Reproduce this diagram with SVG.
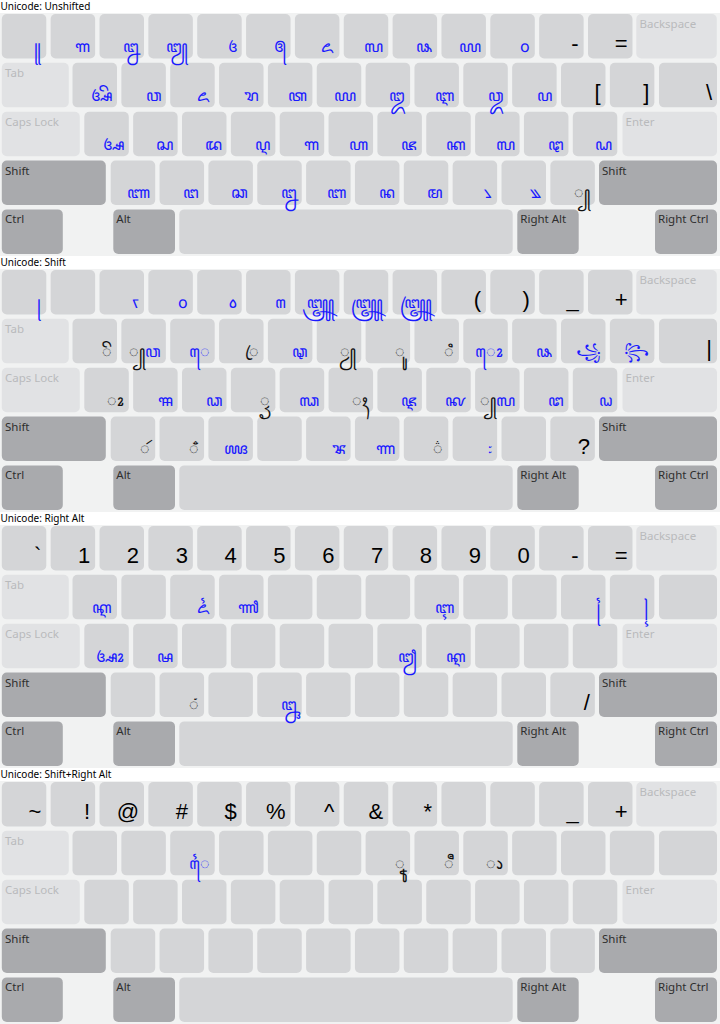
<svg xmlns="http://www.w3.org/2000/svg" xmlns:xlink="http://www.w3.org/1999/xlink" width="720" height="1024" viewBox="0 0 720 1024">
<style>
.bg{fill:#f1f2f2}
.k{fill:#d4d5d7}
.s{fill:#e1e2e4}
.m{fill:#a9aaad}
.lab{font-family:"Noto Sans","DejaVu Sans",sans-serif;font-size:11.5px}
.ll{fill:#b9babc}
.dl{fill:#2e2e2e}
.ttl{font-family:"Noto Sans","DejaVu Sans",sans-serif;font-size:10px;fill:#000}
.a{font-family:"Liberation Sans",Arial,sans-serif;font-size:22px;fill:#000;text-anchor:end}
.j{font-family:"Noto Sans","DejaVu Sans",sans-serif;font-size:16px;fill:#1a1aff;text-anchor:end}
.jb{font-family:"Noto Sans","DejaVu Sans",sans-serif;font-size:16px;fill:#111;text-anchor:end}
.sp{font-size:16.05px;fill:#1a1aff}
</style>
<rect width="720" height="1024" fill="#fff"/>
<defs>
<g id="base">
<rect class="bg" x="0" y="13" width="720" height="243"/>
<rect class="k" x="1.8" y="14" width="44.5" height="44.5" rx="5"/>
<rect class="k" x="50.65" y="14" width="44.5" height="44.5" rx="5"/>
<rect class="k" x="99.5" y="14" width="44.5" height="44.5" rx="5"/>
<rect class="k" x="148.35" y="14" width="44.5" height="44.5" rx="5"/>
<rect class="k" x="197.2" y="14" width="44.5" height="44.5" rx="5"/>
<rect class="k" x="246.05" y="14" width="44.5" height="44.5" rx="5"/>
<rect class="k" x="294.9" y="14" width="44.5" height="44.5" rx="5"/>
<rect class="k" x="343.75" y="14" width="44.5" height="44.5" rx="5"/>
<rect class="k" x="392.6" y="14" width="44.5" height="44.5" rx="5"/>
<rect class="k" x="441.45" y="14" width="44.5" height="44.5" rx="5"/>
<rect class="k" x="490.3" y="14" width="44.5" height="44.5" rx="5"/>
<rect class="k" x="539.15" y="14" width="44.5" height="44.5" rx="5"/>
<rect class="k" x="588" y="14" width="44.5" height="44.5" rx="5"/>
<rect class="s" x="636.3" y="14" width="80.5" height="44.5" rx="5"/>
<text class="lab ll" x="639.5" y="28">Backspace</text>
<rect class="s" x="1.8" y="62.85" width="67" height="44.5" rx="5"/>
<text class="lab ll" x="5" y="76.85">Tab</text>
<rect class="k" x="72.5" y="62.85" width="44.5" height="44.5" rx="5"/>
<rect class="k" x="121.35" y="62.85" width="44.5" height="44.5" rx="5"/>
<rect class="k" x="170.2" y="62.85" width="44.5" height="44.5" rx="5"/>
<rect class="k" x="219.05" y="62.85" width="44.5" height="44.5" rx="5"/>
<rect class="k" x="267.9" y="62.85" width="44.5" height="44.5" rx="5"/>
<rect class="k" x="316.75" y="62.85" width="44.5" height="44.5" rx="5"/>
<rect class="k" x="365.6" y="62.85" width="44.5" height="44.5" rx="5"/>
<rect class="k" x="414.45" y="62.85" width="44.5" height="44.5" rx="5"/>
<rect class="k" x="463.3" y="62.85" width="44.5" height="44.5" rx="5"/>
<rect class="k" x="512.15" y="62.85" width="44.5" height="44.5" rx="5"/>
<rect class="k" x="561" y="62.85" width="44.5" height="44.5" rx="5"/>
<rect class="k" x="609.85" y="62.85" width="44.5" height="44.5" rx="5"/>
<rect class="k" x="659" y="62.85" width="58" height="44.5" rx="5"/>
<rect class="s" x="1.8" y="111.7" width="78" height="44.5" rx="5"/>
<text class="lab ll" x="5" y="125.7">Caps Lock</text>
<rect class="k" x="84.3" y="111.7" width="44.5" height="44.5" rx="5"/>
<rect class="k" x="133.15" y="111.7" width="44.5" height="44.5" rx="5"/>
<rect class="k" x="182" y="111.7" width="44.5" height="44.5" rx="5"/>
<rect class="k" x="230.85" y="111.7" width="44.5" height="44.5" rx="5"/>
<rect class="k" x="279.7" y="111.7" width="44.5" height="44.5" rx="5"/>
<rect class="k" x="328.55" y="111.7" width="44.5" height="44.5" rx="5"/>
<rect class="k" x="377.4" y="111.7" width="44.5" height="44.5" rx="5"/>
<rect class="k" x="426.25" y="111.7" width="44.5" height="44.5" rx="5"/>
<rect class="k" x="475.1" y="111.7" width="44.5" height="44.5" rx="5"/>
<rect class="k" x="523.95" y="111.7" width="44.5" height="44.5" rx="5"/>
<rect class="k" x="572.8" y="111.7" width="44.5" height="44.5" rx="5"/>
<rect class="s" x="622.5" y="111.7" width="94.5" height="44.5" rx="5"/>
<text class="lab ll" x="625.5" y="125.7">Enter</text>
<rect class="m" x="1.8" y="160.55" width="104" height="44.5" rx="5"/>
<text class="lab dl" x="5" y="174.55">Shift</text>
<rect class="k" x="110.7" y="160.55" width="44.5" height="44.5" rx="5"/>
<rect class="k" x="159.55" y="160.55" width="44.5" height="44.5" rx="5"/>
<rect class="k" x="208.4" y="160.55" width="44.5" height="44.5" rx="5"/>
<rect class="k" x="257.25" y="160.55" width="44.5" height="44.5" rx="5"/>
<rect class="k" x="306.1" y="160.55" width="44.5" height="44.5" rx="5"/>
<rect class="k" x="354.95" y="160.55" width="44.5" height="44.5" rx="5"/>
<rect class="k" x="403.8" y="160.55" width="44.5" height="44.5" rx="5"/>
<rect class="k" x="452.65" y="160.55" width="44.5" height="44.5" rx="5"/>
<rect class="k" x="501.5" y="160.55" width="44.5" height="44.5" rx="5"/>
<rect class="k" x="550.35" y="160.55" width="44.5" height="44.5" rx="5"/>
<rect class="m" x="599" y="160.55" width="118" height="44.5" rx="5"/>
<text class="lab dl" x="602" y="174.55">Shift</text>
<rect class="m" x="1.8" y="209.4" width="61" height="44.5" rx="5"/>
<text class="lab dl" x="5" y="223.4">Ctrl</text>
<rect class="m" x="113.3" y="209.4" width="61.7" height="44.5" rx="5"/>
<text class="lab dl" x="116.3" y="223.4">Alt</text>
<rect class="k" x="179.3" y="209.4" width="333.4" height="44.5" rx="5"/>
<rect class="m" x="517.3" y="209.4" width="61.4" height="44.5" rx="5"/>
<text class="lab dl" x="520.3" y="223.4">Right Alt</text>
<rect class="m" x="655" y="209.4" width="62" height="44.5" rx="5"/>
<text class="lab dl" x="658" y="223.4">Right Ctrl</text>
</g>
</defs>

<g id="layer-unshifted">
<text class="ttl" x="0.5" y="10">Unicode: Unshifted</text>
<use xlink:href="#base" href="#base" x="0" y="0"/>
<g id="keys-unshifted">
<text class="j" x="41.3" y="52">꧋</text>
<text class="j" x="90.2" y="52">꧑</text>
<text class="j" x="139" y="52">꧒</text>
<text class="j" x="187.9" y="52">꧓</text>
<text class="j" x="236.7" y="52">꧔</text>
<text class="j" x="285.6" y="52">꧕</text>
<text class="j" x="334.4" y="52">꧖</text>
<text class="j" x="383.3" y="52">꧗</text>
<text class="j" x="432.1" y="52">꧘</text>
<text class="j" x="481" y="52">꧙</text>
<text class="j" x="529.8" y="52">꧐</text>
<text class="a" x="578.7" y="51">-</text>
<text class="a" x="627.5" y="51">=</text>
<text class="j" x="112" y="100.5">ꦄꦼ</text>
<text class="j" x="160.9" y="100.5">ꦮ</text>
<text class="j" x="209.7" y="100.5">ꦌ</text>
<text class="j" x="258.6" y="100.5">ꦫ</text>
<text class="j" x="307.4" y="100.5">ꦠ</text>
<text class="j" x="356.3" y="100.5">ꦪ</text>
<text class="j" x="405.1" y="100.5">ꦈ</text>
<text class="j" x="454" y="100.5">ꦆ</text>
<text class="j" x="502.8" y="100.5">ꦎ</text>
<text class="j" x="551.7" y="100.5">ꦥ</text>
<text class="a" x="600.5" y="100">[</text>
<text class="a" x="649.4" y="100">]</text>
<text class="a" x="712" y="100">\</text>
<text class="j" x="123.8" y="149.5">ꦄ</text>
<text class="j" x="172.7" y="149.5">ꦱ</text>
<text class="j" x="221.5" y="149.5">ꦢ</text>
<text class="j" x="270.4" y="149.5">ꦉ</text>
<text class="j" x="319.2" y="149.5">ꦒ</text>
<text class="j" x="368.1" y="149.5">ꦲ</text>
<text class="j" x="416.9" y="149.5">ꦗ</text>
<text class="j" x="465.8" y="149.5">ꦏ</text>
<text class="j" x="514.6" y="149.5">ꦭ</text>
<text class="j" x="563.5" y="149.5">ꦛ</text>
<text class="j" x="612.3" y="149.5">ꦝ</text>
<text class="j" x="150.2" y="198">ꦚ</text>
<text class="j" x="199.1" y="198">ꦔ</text>
<text class="j" x="247.9" y="198">ꦕ</text>
<text class="j" x="296.8" y="198">ꦊ</text>
<text class="j" x="345.6" y="198">ꦧ</text>
<text class="j" x="394.5" y="198">ꦤ</text>
<text class="j" x="443.3" y="198">ꦩ</text>
<text class="j" x="492.2" y="198">꧈</text>
<text class="j" x="541" y="198">꧉</text>
<text class="jb" x="589.9" y="198">꧀</text>
</g>
</g>

<g id="layer-shift" transform="translate(0,256)">
<text class="ttl" x="0.5" y="10">Unicode: Shift</text>
<use xlink:href="#base" href="#base" x="0" y="0"/>
<g id="keys-shift">
<text class="j" x="41.3" y="52">꧊</text>
<text class="j" x="139" y="52">ꧏ</text>
<text class="j" x="187.9" y="52">꧆</text>
<text class="j" x="236.7" y="52">꧞</text>
<text class="j" x="285.6" y="52">꧟</text>
<text class="j" x="334.4" y="52">꧃</text>
<text class="j" x="383.3" y="52">꧄</text>
<text class="j" x="432.1" y="52">꧅</text>
<text class="a" x="481" y="51">(</text>
<text class="a" x="529.8" y="51">)</text>
<text class="a" x="578.7" y="51">_</text>
<text class="a" x="627.5" y="51">+</text>
<text class="jb" x="112" y="100.5">ꦼ</text>
<text class="jb" x="160.9" y="100.5">꧀<tspan class="sp">ꦮ</tspan></text>
<text class="j" x="209.7" y="100.5">ꦺ</text>
<text class="jb" x="258.6" y="100.5">ꦿ</text>
<text class="j" x="307.4" y="100.5">ꦡ</text>
<text class="jb" x="356.3" y="100.5">ꦾ</text>
<text class="jb" x="405.1" y="100.5">ꦸ</text>
<text class="jb" x="454" y="100.5">ꦶ</text>
<text class="j" x="502.8" y="100.5">ꦺꦴ</text>
<text class="j" x="551.7" y="100.5">ꦦ</text>
<text class="j" x="600.5" y="100.5">꧁</text>
<text class="j" x="649.4" y="100.5">꧂</text>
<text class="a" x="712" y="100">|</text>
<text class="jb" x="123.8" y="149.5">ꦴ</text>
<text class="j" x="172.7" y="149.5">ꦯ</text>
<text class="j" x="221.5" y="149.5">ꦣ</text>
<text class="jb" x="270.4" y="149.5">ꦽ</text>
<text class="j" x="319.2" y="149.5">ꦓ</text>
<text class="jb" x="368.1" y="149.5">ꦃ</text>
<text class="j" x="416.9" y="149.5">ꦘ</text>
<text class="j" x="465.8" y="149.5">ꦑ</text>
<text class="jb" x="514.6" y="149.5">꧀<tspan class="sp">ꦭ</tspan></text>
<text class="j" x="563.5" y="149.5">ꦜ</text>
<text class="j" x="612.3" y="149.5">ꦞ</text>
<text class="jb" x="150.2" y="198">ꦂ</text>
<text class="jb" x="199.1" y="198">ꦀ</text>
<text class="j" x="247.9" y="198">ꦖ</text>
<text class="j" x="345.6" y="198">ꦨ</text>
<text class="j" x="394.5" y="198">ꦟ</text>
<text class="jb" x="443.3" y="198">꦳</text>
<text class="j" x="492.2" y="198">꧇</text>
<text class="a" x="589.9" y="197.5">?</text>
</g>
</g>

<g id="layer-rightalt" transform="translate(0,512)">
<text class="ttl" x="0.5" y="10">Unicode: Right Alt</text>
<use xlink:href="#base" href="#base" x="0" y="0"/>
<g id="keys-rightalt">
<text class="a" x="41.3" y="51">`</text>
<text class="a" x="90.2" y="51">1</text>
<text class="a" x="139" y="51">2</text>
<text class="a" x="187.9" y="51">3</text>
<text class="a" x="236.7" y="51">4</text>
<text class="a" x="285.6" y="51">5</text>
<text class="a" x="334.4" y="51">6</text>
<text class="a" x="383.3" y="51">7</text>
<text class="a" x="432.1" y="51">8</text>
<text class="a" x="481" y="51">9</text>
<text class="a" x="529.8" y="51">0</text>
<text class="a" x="578.7" y="51">-</text>
<text class="a" x="627.5" y="51">=</text>
<text class="j" x="112" y="100.5">ꦐ</text>
<text class="j" x="209.7" y="100.5">ꦍ</text>
<text class="j" x="258.6" y="100.5">ꦬ</text>
<text class="j" x="454" y="100.5">ꦇ</text>
<text class="j" x="600.5" y="100.5">꧌</text>
<text class="j" x="649.4" y="100.5">꧍</text>
<text class="j" x="123.8" y="149.5">ꦄꦴ</text>
<text class="j" x="172.7" y="149.5">ꦰ</text>
<text class="j" x="416.9" y="149.5">ꦙ</text>
<text class="j" x="465.8" y="149.5">ꦐ</text>
<text class="jb" x="199.1" y="198">ꦁ</text>
<text class="j" x="296.8" y="198">ꦋ</text>
<text class="a" x="589.9" y="197.5">/</text>
</g>
</g>

<g id="layer-shift-rightalt" transform="translate(0,768)">
<text class="ttl" x="0.5" y="10">Unicode: Shift+Right Alt</text>
<use xlink:href="#base" href="#base" x="0" y="0"/>
<g id="keys-shift-rightalt">
<text class="a" x="41.3" y="51">~</text>
<text class="a" x="90.2" y="51">!</text>
<text class="a" x="139" y="51">@</text>
<text class="a" x="187.9" y="51">#</text>
<text class="a" x="236.7" y="51">$</text>
<text class="a" x="285.6" y="51">%</text>
<text class="a" x="334.4" y="51">^</text>
<text class="a" x="383.3" y="51">&amp;</text>
<text class="a" x="432.1" y="51">*</text>
<text class="a" x="578.7" y="51">_</text>
<text class="a" x="627.5" y="51">+</text>
<text class="j" x="209.7" y="100.5">ꦻ</text>
<text class="jb" x="405.1" y="100.5">ꦹ</text>
<text class="jb" x="454" y="100.5">ꦷ</text>
<text class="jb" x="502.8" y="100.5">ꦵ</text>
</g>
</g>
</svg>
